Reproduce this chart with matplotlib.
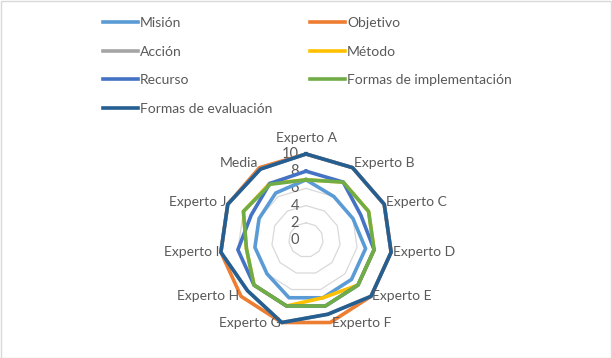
import numpy as np
from matplotlib import pyplot as plt
from matplotlib.patches import Rectangle
from matplotlib.lines import Line2D

plt.rcParams['font.family'] = ['Lato', 'DejaVu Sans']

categories = ['Experto A', 'Experto B', 'Experto C', 'Experto D', 'Experto E',
              'Experto F', 'Experto G', 'Experto H', 'Experto I', 'Experto J',
              'Media']

series_names = ['Misión', 'Objetivo', 'Acción', 'Método', 'Recurso',
                'Formas de implementación', 'Formas de evaluación']

mision = [7, 6, 6, 7, 7, 7, 7, 6, 6, 6, 6.5]
objetivo = [10, 10, 10, 10, 10, 10, 10, 10, 10, 10, 10]
accion = [10, 10, 10, 10, 10, 9, 10, 9, 10, 10, 9.8]
metodo = [7, 8, 8, 8, 8, 7, 8, 8, 7, 8, 7.8]
recurso = [8, 8, 7, 8, 8, 8, 8, 8, 8, 7, 7.8]
implementacion = [7, 8, 8, 8, 8, 8, 8, 8, 7, 8, 7.7]
evaluacion = [10, 10, 10, 10, 10, 9, 10, 9, 10, 10, 9.8]

all_values = [mision, objetivo, accion, metodo, recurso, implementacion, evaluacion]
colors = ['#5B9BD5', '#ED7D31', '#A5A5A5', '#FFC000', '#4472C4', '#70AD47', '#255E91']

r_ticks = [0, 2, 4, 6, 8, 10]
TEXT_COLOR = '#595959'
GRID_COLOR = '#D9D9D9'

W, H = 612, 358
fig = plt.figure(figsize = (W / 100, H / 100), dpi = 100)

# chart area border
fig.patches.append(Rectangle((0.5 / W, 0.5 / H), 1 - 1.5 / W, 1 - 1.5 / H,
                             transform = fig.transFigure, fill = False,
                             edgecolor = GRID_COLOR, linewidth = 1))

# radar centre (306, 240), radius 86 px
cx, cy, rad = 306, 240, 86
ax = fig.add_axes([(cx - rad) / W, 1 - (cy + rad) / H, 2 * rad / W, 2 * rad / H],
                  projection = 'polar')
ax.set_theta_zero_location('N')
ax.set_theta_direction(-1)
ax.set_ylim(0, 10)
ax.set_xticks([])
ax.set_yticks([])
ax.grid(False)
ax.spines['polar'].set_visible(False)
ax.patch.set_alpha(0)

n = len(categories)
angles = np.linspace(0, 2 * np.pi, n, endpoint = False)
closed = np.append(angles, angles[0])

# polygon gridlines
for r in r_ticks[1:]:
  ax.plot(closed, [r] * (n + 1), color = GRID_COLOR, linewidth = 0.9,
          clip_on = False, zorder = 1)

for vals, c, name in zip(all_values, colors, series_names):
  ax.plot(closed, vals + [vals[0]], color = c, linewidth = 2.6,
          clip_on = False, zorder = 3, label = name)

# radial tick labels
for r in r_ticks:
  ax.annotate(str(r), xy = (0, r), xytext = (-5, 0), textcoords = 'offset points',
              ha = 'right', va = 'center', fontsize = 10.5, color = TEXT_COLOR,
              zorder = 2)

# category labels
for ang, lab in zip(angles, categories):
  s, c = np.sin(ang), np.cos(ang)
  if abs(s) < 0.1:
    ax.annotate(lab, xy = (ang, 10), xytext = (0, 7), textcoords = 'offset points',
                ha = 'center', va = 'bottom', fontsize = 10, color = TEXT_COLOR)
  else:
    dy = 3 if c > 0.5 else (1.5 if c > 0.2 else 0)
    ax.annotate(lab, xy = (ang, 10), xytext = (1 if s > 0 else -1, dy),
                textcoords = 'offset points', ha = 'left' if s > 0 else 'right',
                va = 'center', fontsize = 10, color = TEXT_COLOR)

# legend is filled row by row in the reference, matplotlib fills by column
order = [0, 2, 4, 6, 1, 3, 5]
handles = [Line2D([], [], color = colors[i], linewidth = 2.6) for i in order]
labels = [series_names[i] for i in order]
fig.legend(handles, labels, ncol = 2, loc = 'upper left',
           bbox_to_anchor = (103 / W, 1 - 17 / H), frameon = False,
           fontsize = 10, labelcolor = TEXT_COLOR, borderpad = 0,
           borderaxespad = 0, handlelength = 2.5, handletextpad = 0.15,
           labelspacing = 1.2, columnspacing = 2.75)

fig.savefig('out.png', dpi = 100)
